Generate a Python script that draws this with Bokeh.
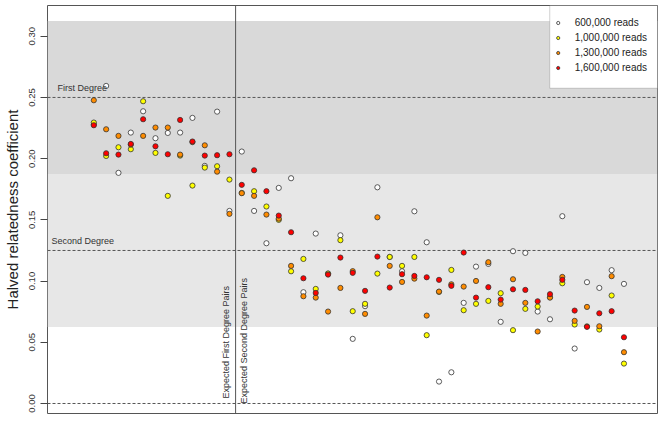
import math
from bokeh.plotting import figure
from bokeh.models import (BoxAnnotation, Span, FixedTicker, NumeralTickFormatter,
                          Legend, LegendItem, Range1d, Label)
from bokeh.embed import file_html
from bokeh.resources import INLINE

# ---------------- data ----------------
pair_index = list(range(1, 45))

reads_600k = [0.228, 0.2594, 0.1884, 0.2213, 0.2387, 0.2167, 0.2210, 0.2213, 0.2333, 0.1941,
              0.2384, 0.1573, 0.2058, 0.1573, 0.1309, 0.1761, 0.1840, 0.0909, 0.1388, 0.1060,
              0.1374, 0.0528, 0.0795, 0.1766, 0.1197, 0.1080, 0.1570, 0.1317, 0.0179, 0.0255,
              0.0822, 0.1118, 0.1140, 0.0667, 0.1244, 0.1230, 0.0751, 0.0688, 0.1530, 0.0449,
              0.0991, 0.0944, 0.1089, 0.0977]
reads_1000k = [0.2295, 0.2022, 0.2093, 0.2077, 0.2469, 0.2047, 0.1696, 0.2025, 0.1780, 0.1927,
               0.1938, 0.1829, 0.1720, 0.1734, 0.1609, 0.1500, 0.1080, 0.1181, 0.0936, 0.1062,
               0.1334, 0.0754, 0.0814, 0.1061, 0.1197, 0.1124, 0.1197, 0.0558, 0.0912, 0.1091,
               0.0762, 0.0814, 0.0838, 0.0901, 0.0599, 0.0773, 0.0792, 0.0868, 0.0982, 0.0645,
               0.0630, 0.0604, 0.0882, 0.0326]
reads_1300k = [0.2477, 0.2240, 0.2186, 0.2115, 0.2186, 0.2254, 0.2254, 0.2033, 0.2135, 0.2109,
               0.1894, 0.1549, 0.1718, 0.1696, 0.1543, 0.1510, 0.1124, 0.0876, 0.0865, 0.0751,
               0.0944, 0.1081, 0.0732, 0.1521, 0.1124, 0.0993, 0.1020, 0.0718, 0.0914, 0.0974,
               0.0955, 0.1001, 0.1154, 0.0814, 0.1015, 0.0822, 0.0588, 0.0865, 0.1034, 0.0675,
               0.0789, 0.0631, 0.1040, 0.0419]
reads_1600k = [0.2273, 0.2044, 0.2033, 0.2120, 0.2322, 0.2101, 0.2036, 0.2316, 0.2140, 0.2025,
               0.2028, 0.2036, 0.1786, 0.1905, 0.1734, 0.1535, 0.1399, 0.1023, 0.0903, 0.1053,
               0.1192, 0.1067, 0.0920, 0.1200, 0.0947, 0.1056, 0.1042, 0.1031, 0.1010, 0.0961,
               0.1233, 0.0865, 0.0950, 0.0849, 0.0933, 0.0928, 0.0835, 0.0893, 0.1010, 0.0759,
               0.0626, 0.0737, 0.0754, 0.0541]

series_labels = ["600,000 reads", "1,000,000 reads", "1,300,000 reads", "1,600,000 reads"]
series_colors = ["#ffffff", "#ffff00", "#ff8c00", "#ff0000"]
y_ticks = [0.0, 0.05, 0.10, 0.15, 0.20, 0.25, 0.30]
degree_lines = [0.25, 0.125, 0.0]
y_title = "Halved relatedness coefficient"

# ---------------- figure ----------------
FONT = "Liberation Sans"
X0, X1 = -2.757, 46.72
Y0, Y1 = -0.00817, 0.3251
p = figure(width=660, height=422, output_backend="svg", toolbar_location=None,
           x_range=Range1d(X0, X1), y_range=Range1d(Y0, Y1),
           x_axis_location=None, min_border_left=47, min_border_right=3,
           min_border_top=5, min_border_bottom=9)
p.xgrid.visible = False
p.ygrid.visible = False
p.outline_line_color = "#555555"
p.outline_line_width = 1
p.background_fill_color = "white"
p.border_fill_color = "white"

# bands
p.add_layout(BoxAnnotation(bottom=0.1875, top=0.3125, fill_color="#d9d9d9", fill_alpha=1,
                           line_color=None, level="image"))
p.add_layout(BoxAnnotation(bottom=0.0625, top=0.1875, fill_color="#e7e7e7", fill_alpha=1,
                           line_color=None, level="image"))
for yv in degree_lines:
    p.add_layout(Span(location=yv, dimension="width", line_color="#555555",
                      line_dash="3 2", line_width=1, level="underlay"))
p.add_layout(Span(location=12.5, dimension="height", line_color="#555555",
                  line_width=1, level="underlay"))

# labels
p.add_layout(Label(x=-1.95, y=0.2535, text="First Degree", text_font=FONT,
                   text_font_size="9px", text_color="#333333", text_baseline="bottom"))
p.add_layout(Label(x=-2.43, y=0.1288, text="Second Degree", text_font=FONT,
                   text_font_size="9px", text_color="#333333", text_baseline="bottom"))
p.add_layout(Label(x=11.76, y=0.004, text="Expected First Degree Pairs", text_font=FONT,
                   text_font_size="9px", text_color="#333333", angle=math.pi / 2,
                   text_align="left", text_baseline="middle"))
p.add_layout(Label(x=13.22, y=0.0, text="Expected Second Degree Pairs", text_font=FONT,
                   text_font_size="9px", text_color="#333333", angle=math.pi / 2,
                   text_align="left", text_baseline="middle"))

# points
renderers = []
for vals, col in zip([reads_600k, reads_1000k, reads_1300k, reads_1600k], series_colors):
    r = p.scatter(pair_index, vals, size=5.2, fill_color=col, line_color="#333333",
                  line_width=0.8)
    renderers.append(r)

# legend box (drawn first, then the legend entries on top)
p.add_layout(BoxAnnotation(left=37.98, right=X1, bottom=0.2575, top=Y1,
                           fill_color="white", fill_alpha=1,
                           line_color="#666666", line_width=1))
legend = Legend(items=[LegendItem(label=lab, renderers=[r]) for lab, r in zip(series_labels, renderers)],
                location="top_right", margin=10, padding=0, spacing=0,
                glyph_width=8, glyph_height=15, label_height=15, label_standoff=13,
                label_text_font=FONT, label_text_font_size="10px", label_text_color="#222222",
                border_line_color=None, background_fill_alpha=0)
p.add_layout(legend)

# y axis
ax = p.yaxis[0]
ax.ticker = FixedTicker(ticks=y_ticks)
ax.formatter = NumeralTickFormatter(format="0.00")
ax.minor_tick_line_color = None
ax.major_tick_out = 7
ax.major_tick_in = 0
ax.major_tick_line_color = "#444444"
ax.axis_line_color = None
ax.major_label_orientation = "vertical"
ax.major_label_standoff = 5
ax.major_label_text_font = FONT
ax.major_label_text_font_size = "9.5px"
ax.major_label_text_color = "#333333"
ax.axis_label = y_title
ax.axis_label_text_font = FONT
ax.axis_label_text_font_size = "15px"
ax.axis_label_text_font_style = "normal"
ax.axis_label_text_color = "#222222"
ax.axis_label_text_line_height = 1.0
ax.axis_label_standoff = 6

open("out.html", "w").write(file_html(p, INLINE))
